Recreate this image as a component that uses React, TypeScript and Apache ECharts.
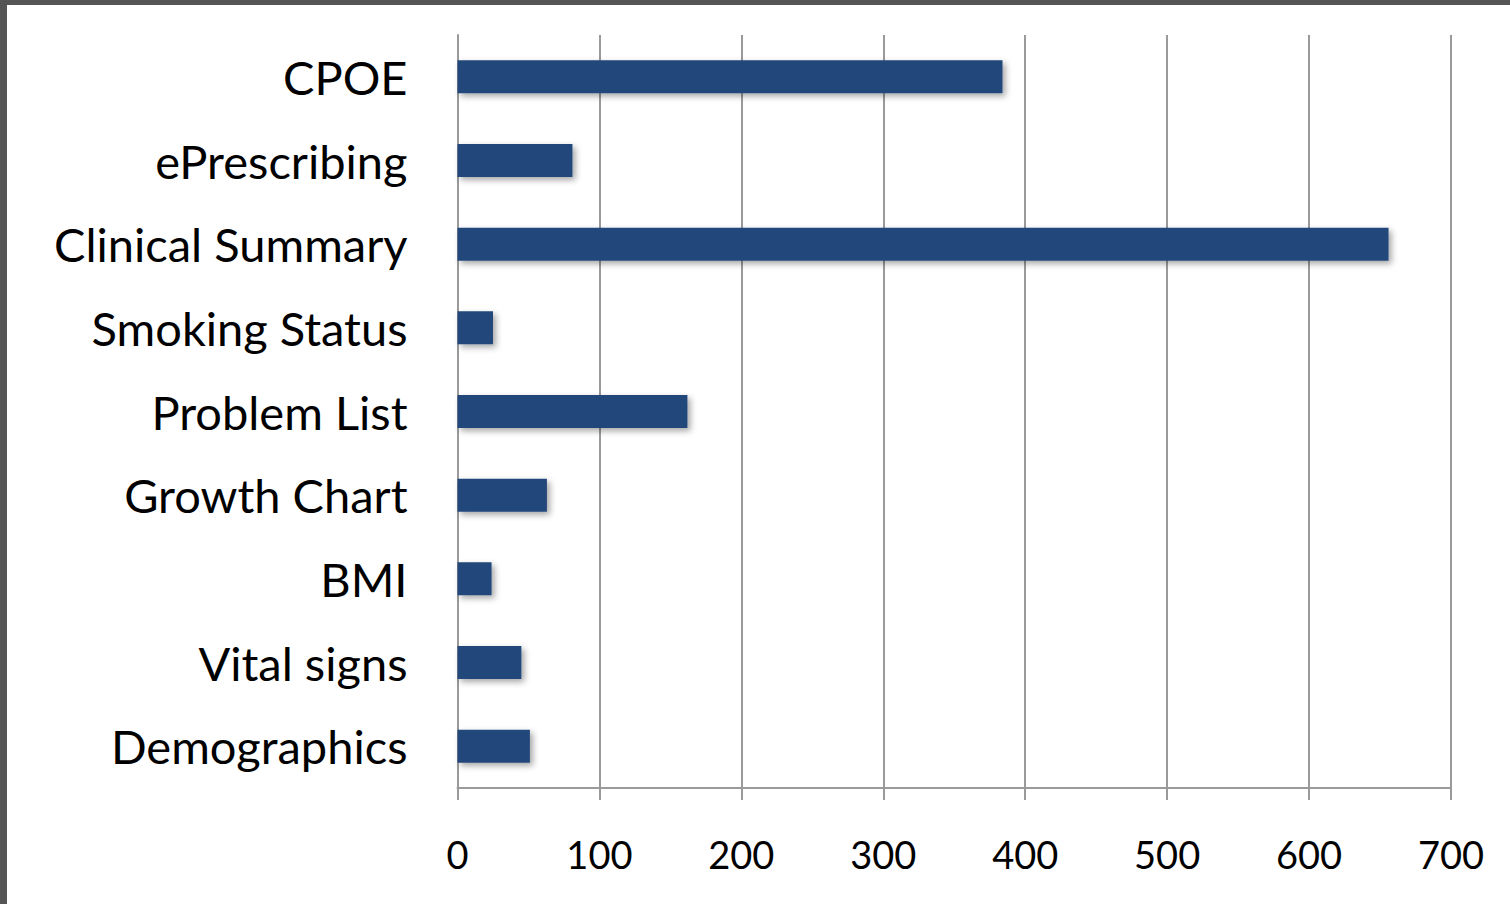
import React, { useEffect, useRef } from "react";
import * as echarts from "echarts";

const categories = [
  "CPOE",
  "ePrescribing",
  "Clinical Summary",
  "Smoking Status",
  "Problem List",
  "Growth Chart",
  "BMI",
  "Vital signs",
  "Demographics",
];
const values = [384, 81, 656, 25, 162, 63, 24, 45, 51];
const xTicks = { min: 0, max: 700, interval: 100 };

export default function App() {
  const ref = useRef<HTMLDivElement>(null);
  useEffect(() => {
    const chart = echarts.init(ref.current!, null, { renderer: "svg" });
    chart.setOption({
      animation: false,
      backgroundColor: "#ffffff",
      graphic: [
        { type: "rect", shape: { x: 0, y: 0, width: 1510, height: 5 }, style: { fill: "#555555" } },
        { type: "rect", shape: { x: 0, y: 0, width: 7, height: 904 }, style: { fill: "#555555" } },
      ],
      grid: { left: 457.5, right: 59, top: 35, bottom: 116, containLabel: false },
      xAxis: {
        type: "value",
        min: xTicks.min,
        max: xTicks.max,
        interval: xTicks.interval,
        axisLine: { show: true, lineStyle: { color: "#9a9a9a", width: 2 } },
        axisTick: { show: true, length: 12, lineStyle: { color: "#9a9a9a", width: 2 } },
        splitLine: { show: true, lineStyle: { color: "#9a9a9a", width: 2 } },
        axisLabel: {
          color: "#000000",
          fontFamily: "Lato, 'Open Sans', sans-serif",
          fontSize: 38,
          margin: 47,
        },
      },
      yAxis: {
        type: "category",
        data: categories,
        inverse: true,
        axisLine: { show: true, lineStyle: { color: "#9a9a9a", width: 2 } },
        axisTick: { show: false },
        axisLabel: {
          color: "#000000",
          fontFamily: "Lato, 'Open Sans', sans-serif",
          fontSize: 47,
          margin: 50,
          padding: [0, 0, 8, 0],
        },
      },
      series: [
        {
          type: "bar",
          data: values,
          barWidth: 33,
          itemStyle: {
            color: "#21477a",
            shadowBlur: 6,
            shadowOffsetX: 3,
            shadowOffsetY: 3,
            shadowColor: "rgba(0,0,0,0.35)",
          },
        },
      ],
    });
    return () => chart.dispose();
  }, []);
  return (
    <div
      ref={ref}
      style={{ position: "absolute", left: 0, top: 0, width: 1510, height: 904 }}
    />
  );
}
